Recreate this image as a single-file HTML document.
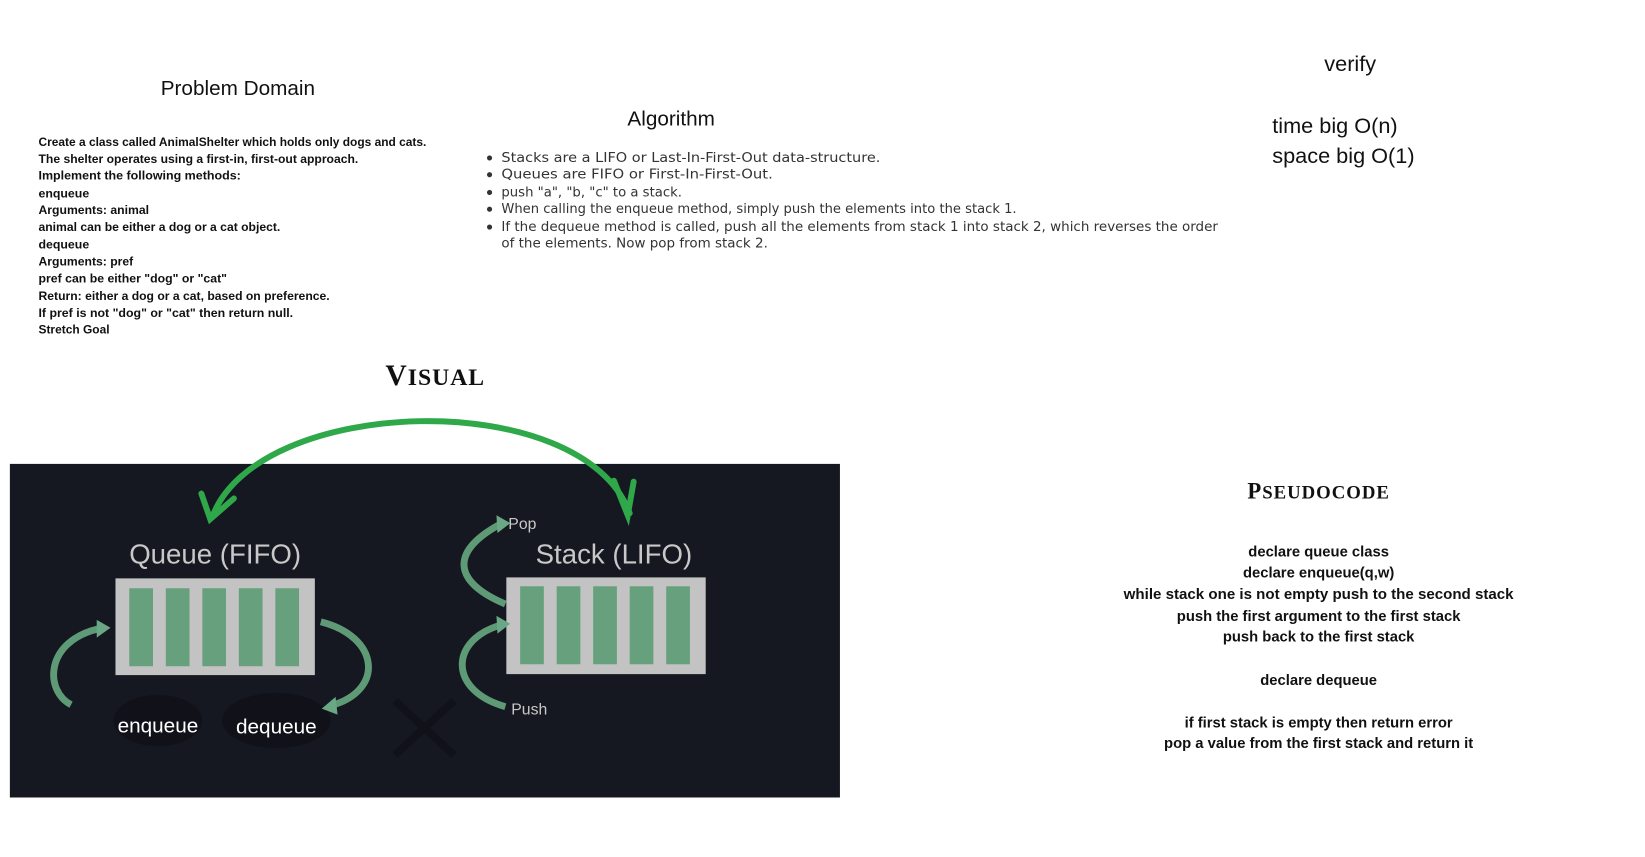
<!DOCTYPE html>
<html><head><meta charset="utf-8"><style>
html,body{margin:0;padding:0;background:#fff;}
svg{display:block;}
</style></head><body>
<svg width="1645" height="857" viewBox="0 0 1645 857" xmlns="http://www.w3.org/2000/svg">
<g transform="scale(0.987)">
<g font-family="Liberation Sans, sans-serif" fill="#111">
<text x="241" y="96" font-size="21" text-anchor="middle">Problem Domain</text>
<g font-size="12.5" font-weight="bold">
<text x="39" y="148" textLength="393" lengthAdjust="spacingAndGlyphs">Create a class called AnimalShelter which holds only dogs and cats.</text>
<text x="39" y="165" textLength="324" lengthAdjust="spacingAndGlyphs">The shelter operates using a first-in, first-out approach.</text>
<text x="39" y="182" textLength="205" lengthAdjust="spacingAndGlyphs">Implement the following methods:</text>
<text x="39" y="200">enqueue</text>
<text x="39" y="217" textLength="112" lengthAdjust="spacingAndGlyphs">Arguments: animal</text>
<text x="39" y="234" textLength="245" lengthAdjust="spacingAndGlyphs">animal can be either a dog or a cat object.</text>
<text x="39" y="252">dequeue</text>
<text x="39" y="269" textLength="96" lengthAdjust="spacingAndGlyphs">Arguments: pref</text>
<text x="39" y="286" textLength="191" lengthAdjust="spacingAndGlyphs">pref can be either "dog" or "cat"</text>
<text x="39" y="304" textLength="295" lengthAdjust="spacingAndGlyphs">Return: either a dog or a cat, based on preference.</text>
<text x="39" y="321" textLength="258" lengthAdjust="spacingAndGlyphs">If pref is not "dog" or "cat" then return null.</text>
<text x="39" y="338" textLength="72" lengthAdjust="spacingAndGlyphs">Stretch Goal</text>
</g>
<text x="680" y="127" font-size="21" text-anchor="middle">Algorithm</text>
<g font-size="13.5" fill="#333" font-family="DejaVu Sans, sans-serif">
<circle cx="496" cy="160" r="2.6"/><circle cx="496" cy="177" r="2.6"/><circle cx="496" cy="195" r="2.6"/><circle cx="496" cy="212" r="2.6"/><circle cx="496" cy="230" r="2.6"/>
<text x="508" y="164" textLength="384" lengthAdjust="spacingAndGlyphs">Stacks are a LIFO or Last-In-First-Out data-structure.</text>
<text x="508" y="181" textLength="275" lengthAdjust="spacingAndGlyphs">Queues are FIFO or First-In-First-Out.</text>
<text x="508" y="199" textLength="183" lengthAdjust="spacingAndGlyphs">push "a", "b, "c" to a stack.</text>
<text x="508" y="216" textLength="522" lengthAdjust="spacingAndGlyphs">When calling the enqueue method, simply push the elements into the stack 1.</text>
<text x="508" y="234" textLength="726" lengthAdjust="spacingAndGlyphs">If the dequeue method is called, push all the elements from stack 1 into stack 2, which reverses the order</text>
<text x="508" y="251" textLength="270" lengthAdjust="spacingAndGlyphs">of the elements. Now pop from stack 2.</text>
</g>
<text x="1368" y="72" font-size="22" text-anchor="middle">verify</text>
<text x="1289" y="135" font-size="22">time big O(n)</text>
<text x="1289" y="165" font-size="22">space big O(1)</text>
<text x="441" y="390" font-size="30" font-family="Liberation Serif, serif" font-weight="bold" text-anchor="middle" letter-spacing="1">V<tspan font-size="24">ISUAL</tspan></text>
<text x="1336" y="505" font-size="23" font-family="Liberation Serif, serif" font-weight="bold" text-anchor="middle" letter-spacing="1">P<tspan font-size="19">SEUDOCODE</tspan></text>
<g font-size="15" font-weight="bold" text-anchor="middle">
<text x="1336" y="564">declare queue class</text>
<text x="1336" y="585">declare enqueue(q,w)</text>
<text x="1336" y="607" textLength="395" lengthAdjust="spacingAndGlyphs">while stack one is not empty push to the second stack</text>
<text x="1336" y="629">push the first argument to the first stack</text>
<text x="1336" y="650">push back to the first stack</text>
<text x="1336" y="694">declare dequeue</text>
<text x="1336" y="737">if first stack is empty then return error</text>
<text x="1336" y="758">pop a value from the first stack and return it</text>
</g>
</g>
<rect x="10" y="470" width="841" height="338" fill="#161821"/>
<g fill="#c3c3c3">
<rect x="117" y="586" width="202" height="98"/>
<rect x="513" y="585" width="202" height="98"/>
</g>
<g fill="#66a07c">
<rect x="131" y="596" width="24" height="79"/><rect x="168" y="596" width="24" height="79"/><rect x="205" y="596" width="24" height="79"/><rect x="242" y="596" width="24" height="79"/><rect x="279" y="596" width="24" height="79"/>
<rect x="527" y="594" width="24" height="79"/><rect x="564" y="594" width="24" height="79"/><rect x="601" y="594" width="24" height="79"/><rect x="638" y="594" width="24" height="79"/><rect x="675" y="594" width="24" height="79"/>
</g>
<g font-family="Liberation Sans, sans-serif" fill="#c8c8c8">
<text x="218" y="571" font-size="28" text-anchor="middle">Queue (FIFO)</text>
<text x="622" y="571" font-size="28" text-anchor="middle">Stack (LIFO)</text>
<text x="515" y="536" font-size="16">Pop</text>
<text x="518" y="724" font-size="16">Push</text>
</g>
<ellipse cx="160" cy="730" rx="45" ry="26" fill="#111219"/>
<ellipse cx="280" cy="730" rx="55" ry="28" fill="#111219"/>
<g font-family="Liberation Sans, sans-serif" fill="#fff" font-size="21" text-anchor="middle">
<text x="160" y="742">enqueue</text>
<text x="280" y="743">dequeue</text>
</g>
<g stroke="#0d0e13" stroke-width="8" opacity="0.5"><line x1="400" y1="710" x2="460" y2="765"/><line x1="460" y1="710" x2="400" y2="765"/></g>
<g fill="none" stroke="#5e9a76" stroke-width="7" stroke-linecap="butt">
<path d="M72 714 C 45 700, 45 650, 100 637"/>
<path d="M325 630 C 385 645, 390 700, 335 715"/>
<path d="M512 612 C 460 590, 455 560, 505 532"/>
<path d="M512 716 C 455 700, 455 650, 505 634"/>
</g>
<g fill="#6aa885">
<polygon points="98,628 112,636 98,646"/>
<polygon points="340,706 326,718 342,724"/>
<polygon points="503,522 517,530 504,540"/>
<polygon points="503,624 517,632 504,642"/>
</g>
<g fill="none" stroke="#2fa84a" stroke-width="6" stroke-linecap="round">
<path d="M215 524 C 260 400, 590 390, 638 520"/>
<path d="M204 500 L 213 526 L 237 505"/>
<path d="M622 487 L 636 522 L 642 488"/>
</g>
</g>
</svg>
</body></html>
